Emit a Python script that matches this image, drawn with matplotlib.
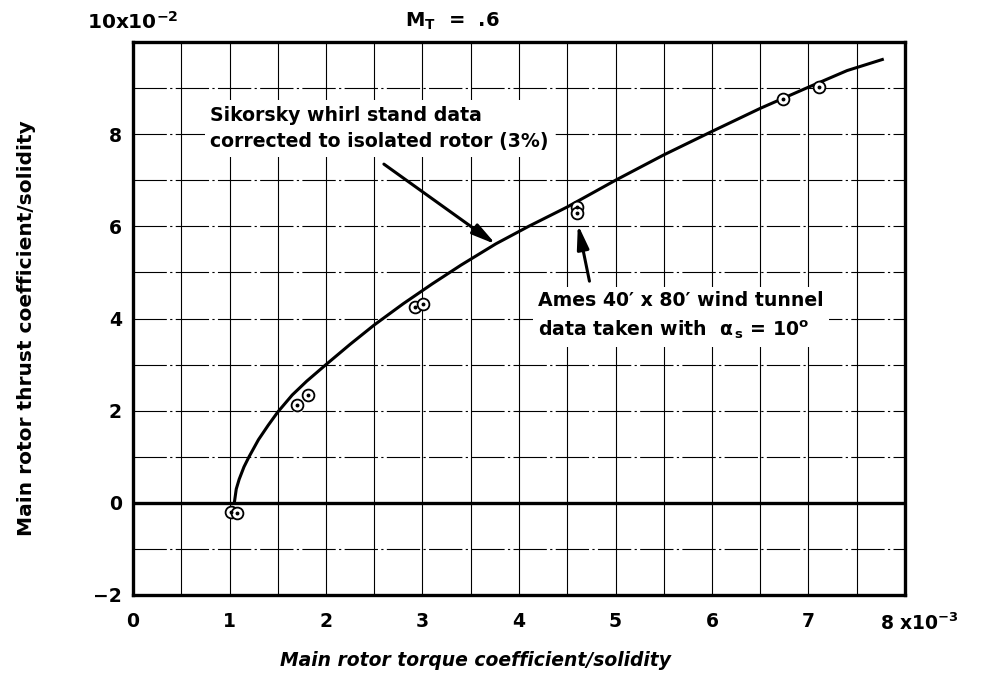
import matplotlib
matplotlib.use("Agg")
import matplotlib.pyplot as plt

plt.rcParams['font.family'] = ['DejaVu Sans']
plt.rcParams['font.weight'] = 'bold'
plt.rcParams['mathtext.default'] = 'regular'

# whirl stand faired curve (torque/solidity x1e-3, thrust/solidity x1e-2)
curve_cq = [1.05, 1.07, 1.10, 1.15, 1.20, 1.30, 1.40, 1.50, 1.65, 1.80,
            2.00, 2.25, 2.50, 2.80, 3.10, 3.40, 3.76, 4.10, 4.50, 5.00,
            5.50, 6.00, 6.50, 7.00, 7.40, 7.78]
curve_ct = [0.00, 0.30, 0.51, 0.78, 0.99, 1.37, 1.68, 1.97, 2.34, 2.64,
            3.00, 3.44, 3.86, 4.32, 4.75, 5.16, 5.62, 6.00, 6.42, 7.00,
            7.55, 8.06, 8.56, 9.02, 9.38, 9.63]

# Ames 40x80 tunnel points
ames_cq = [1.02, 1.08, 1.70, 1.81, 2.92, 3.01, 4.60, 4.60, 6.74, 7.11]
ames_ct = [-0.19, -0.22, 2.13, 2.35, 4.25, 4.32, 6.43, 6.30, 8.76, 9.03]

xtick_vals = [0, 1, 2, 3, 4, 5, 6, 7]
ytick_vals = [-2, 0, 2, 4, 6, 8]
ytick_text = ['\u22122', '0', '2', '4', '6', '8']
xgrid = [0.5, 1, 1.5, 2, 2.5, 3, 3.5, 4, 4.5, 5, 5.5, 6, 6.5, 7, 7.5]
ygrid = [-1, 1, 2, 3, 4, 5, 6, 7, 8, 9]

W, H = 981, 675
fig = plt.figure(figsize=(W / 100, H / 100), dpi=100)
ax = fig.add_axes([133 / W, 1 - 595 / H, (905 - 133) / W, (595 - 42) / H])
ax.set_xlim(0, 8)
ax.set_ylim(-2, 10)

# grid: solid verticals, broken horizontals
for x in xgrid:
    ax.axvline(x, color='black', lw=0.8, zorder=1)
for y in ygrid:
    ax.axhline(y, color='black', lw=0.8, ls=(0, (30, 3, 2, 3)), zorder=1)
ax.axhline(0, color='black', lw=2.4, zorder=2)

for s in ax.spines.values():
    s.set_linewidth(2.4)

ax.set_xticks(xtick_vals)
ax.set_xticklabels([str(v) for v in xtick_vals])
ax.set_yticks(ytick_vals)
ax.set_yticklabels(ytick_text)
ax.tick_params(length=0, labelsize=13.5)
ax.tick_params(axis='x', pad=12)
ax.tick_params(axis='y', pad=8)

ax.plot(curve_cq, curve_ct, color='black', lw=2.2, zorder=3,
        solid_capstyle='butt')
ax.plot(ames_cq, ames_ct, ls='none', marker='o', ms=8.5, mfc='white',
        mec='black', mew=1.3, zorder=4)
ax.plot(ames_cq, ames_ct, ls='none', marker='o', ms=1.8, mfc='black',
        mec='black', zorder=5)

box = dict(facecolor='white', edgecolor='none', pad=4)
ax.text(0.80, 8.62, 'Sikorsky whirl stand data\ncorrected to isolated rotor (3%)',
        fontsize=13.6, va='top', ha='left', linespacing=1.5, bbox=box, zorder=6)
ax.annotate('', xy=(3.76, 5.61), xytext=(2.60, 7.35),
            arrowprops=dict(arrowstyle='-|>,head_length=0.9,head_width=0.22',
                            color='black', lw=2.2, shrinkA=0, shrinkB=0,
                            mutation_scale=16), zorder=7)

ax.text(4.20, 4.60, 'Ames 40\u2032 x 80\u2032 wind tunnel\ndata taken with  '
        '$\\alpha_{\\,s}$ = 10$^o$',
        fontsize=13.6, va='top', ha='left', linespacing=1.5, bbox=box, zorder=6)
ax.annotate('', xy=(4.61, 6.04), xytext=(4.73, 4.81),
            arrowprops=dict(arrowstyle='-|>,head_length=0.9,head_width=0.22',
                            color='black', lw=2.2, shrinkA=0, shrinkB=0,
                            mutation_scale=16), zorder=7)

# axis multipliers and title
fig.text(87 / W, 1 - 29 / H, '10x10$^{\u22122}$', fontsize=14.5, ha='left',
         va='baseline')
fig.text(405 / W, 1 - 27 / H, 'M$_T$  =  .6', fontsize=14, ha='left',
         va='baseline')
fig.text(880 / W, 1 - 630 / H, '8 x10$^{\u22123}$', fontsize=13.5, ha='left',
         va='baseline')

fig.text(475 / W, 1 - 660 / H, 'Main rotor torque coefficient/solidity',
         fontsize=13.5, ha='center', va='center', style='italic')
fig.text(27 / W, 1 - 328 / H, 'Main rotor thrust coefficient/solidity',
         fontsize=14.5, ha='center', va='center', rotation=90)

fig.savefig('out.png', dpi=100)
